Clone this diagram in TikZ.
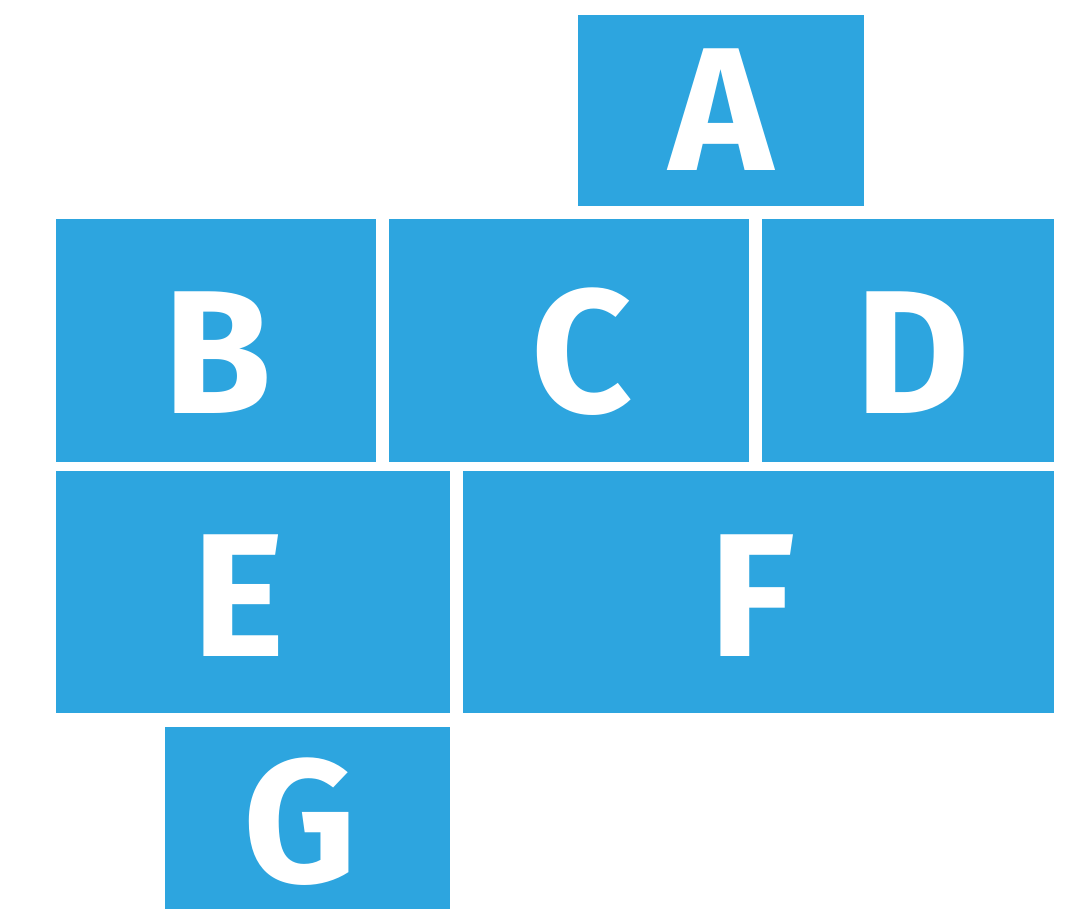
\documentclass[tikz,border=0pt]{standalone}
\usepackage{fontspec}
\setsansfont{Fira Sans}
\usepackage{xcolor}
\usetikzlibrary{positioning}
\definecolor{tileBlue}{HTML}{2DA5DF}
\tikzset{
  tile/.style={fill=tileBlue,draw=none,inner sep=0pt,outer sep=0pt,anchor=north west},
  letter/.style={text=white,inner sep=0pt,font=\sffamily\bfseries\fontsize{100}{100}\selectfont}
}
\newcommand{\tileat}[5]{% name, x, y, width, height
  \node[tile,minimum width=#4*0.02cm,minimum height=#5*0.02cm] (#1) at (#2,#3) {};}

\begin{document}
\begin{tikzpicture}[x=0.02cm,y=-0.02cm]
  \useasboundingbox (0,0) rectangle (1071,909);
  % tiles
  \tileat{tileA}{578}{15}{286}{191}
  \tileat{tileB}{56}{219}{320}{243}
  \tileat{tileC}{389}{219}{360}{243}
  \tileat{tileD}{762}{219}{292}{243}
  \tileat{tileE}{56}{471}{394}{242}
  \tileat{tileF}{463}{471}{591}{242}
  \tileat{tileG}{165}{727}{285}{182}

  % letters
  \node[letter] (labA) at (721,109.5) {A};
  \node[letter] (labB) at (217.5,352.5) {B};
  \node[letter] (labC) at (582.5,352) {C};
  \node[letter] (labD) at (913,352.5) {D};
  \node[letter] (labE) at (238.5,596) {E};
  \node[letter] (labF) at (752.5,596) {F};
  \node[letter] (labG) at (300,822) {G};
\end{tikzpicture}
\end{document}
